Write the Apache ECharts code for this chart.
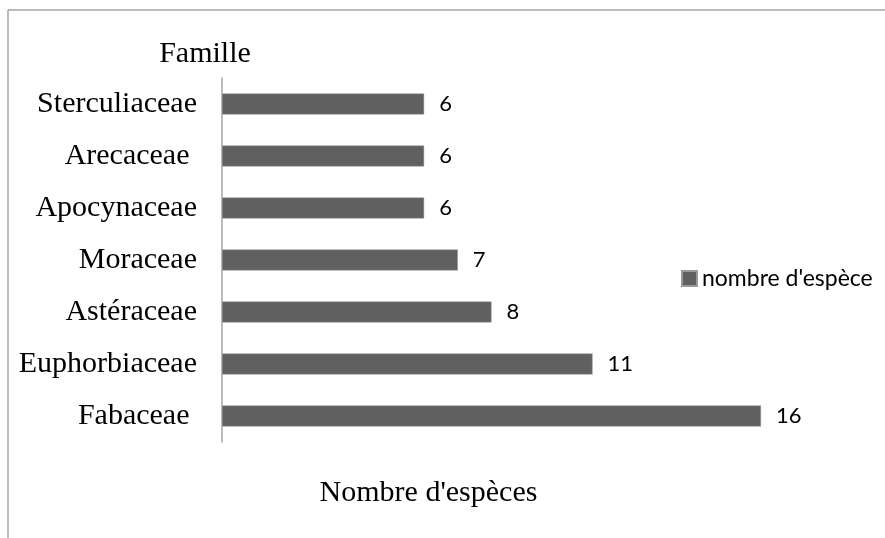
<!DOCTYPE html>
<html>
<head>
<meta charset="utf-8">
<script src="https://cdn.jsdelivr.net/npm/echarts@6/dist/echarts.min.js"></script>
<style>
  html, body { margin: 0; padding: 0; background: #fff; }
  #chart { width: 885px; height: 538px; }
</style>
</head>
<body>
<div id="chart"></div>
<script>
// families, bottom to top as drawn
const familles = ['Fabaceae ', 'Euphorbiaceae', 'Astéraceae', 'Moraceae', 'Apocynaceae', 'Arecaceae ', 'Sterculiaceae']
const nombreEspeces = [16, 11, 8, 7, 6, 6, 6]
const serieName = "nombre d'espèce"

const chart = echarts.init(document.getElementById('chart'))

const serif = "'Liberation Serif', 'Times New Roman', serif"
const sans = "Lato, 'Open Sans', sans-serif"

const option = {
  backgroundColor: '#ffffff',
  animation: false,
  grid: {
    left: 222,
    right: 124,
    top: 78,
    bottom: 96
  },
  graphic: [
    // outer frame (only top and left edges are visible)
    { type: 'line', shape: { x1: 8, y1: 10, x2: 885, y2: 10 }, style: { stroke: '#a6a6a6', lineWidth: 1.5 } },
    { type: 'line', shape: { x1: 8, y1: 10, x2: 8, y2: 538 }, style: { stroke: '#a6a6a6', lineWidth: 1.5 } }
  ],
  legend: {
    data: [serieName],
    left: 676,
    top: 262,
    icon: 'rect',
    itemWidth: 15,
    itemHeight: 15,
    textStyle: { fontFamily: sans, fontSize: 23, color: '#000' }
  },
  xAxis: {
    type: 'value',
    min: 0,
    max: 16,
    name: "Nombre d'espèces",
    nameLocation: 'middle',
    nameGap: 36,
    nameTextStyle: { fontFamily: serif, fontSize: 30, color: '#000', padding: [0, 126, 0, 0] },
    axisLine: { show: false },
    axisTick: { show: false },
    axisLabel: { show: false },
    splitLine: { show: false }
  },
  yAxis: {
    type: 'category',
    data: familles,
    name: 'Famille',
    nameLocation: 'end',
    nameGap: 9,
    nameTextStyle: { fontFamily: serif, fontSize: 30, color: '#000', padding: [0, 34, 0, 0] },
    axisLine: { show: true, lineStyle: { color: '#a6a6a6', width: 1.5 } },
    axisTick: { show: false },
    axisLabel: { fontFamily: serif, fontSize: 30, color: '#000', margin: 25 },
    splitLine: { show: false }
  },
  series: [
    {
      name: serieName,
      type: 'bar',
      data: nombreEspeces,
      barWidth: 21,
      itemStyle: { color: '#606060', borderColor: '#9a9a9a', borderWidth: 0.5 },
      label: {
        show: true,
        position: 'right',
        distance: 15,
        fontFamily: sans,
        fontSize: 22,
        color: '#000'
      }
    }
  ]
}

chart.setOption(option)
</script>
</body>
</html>
